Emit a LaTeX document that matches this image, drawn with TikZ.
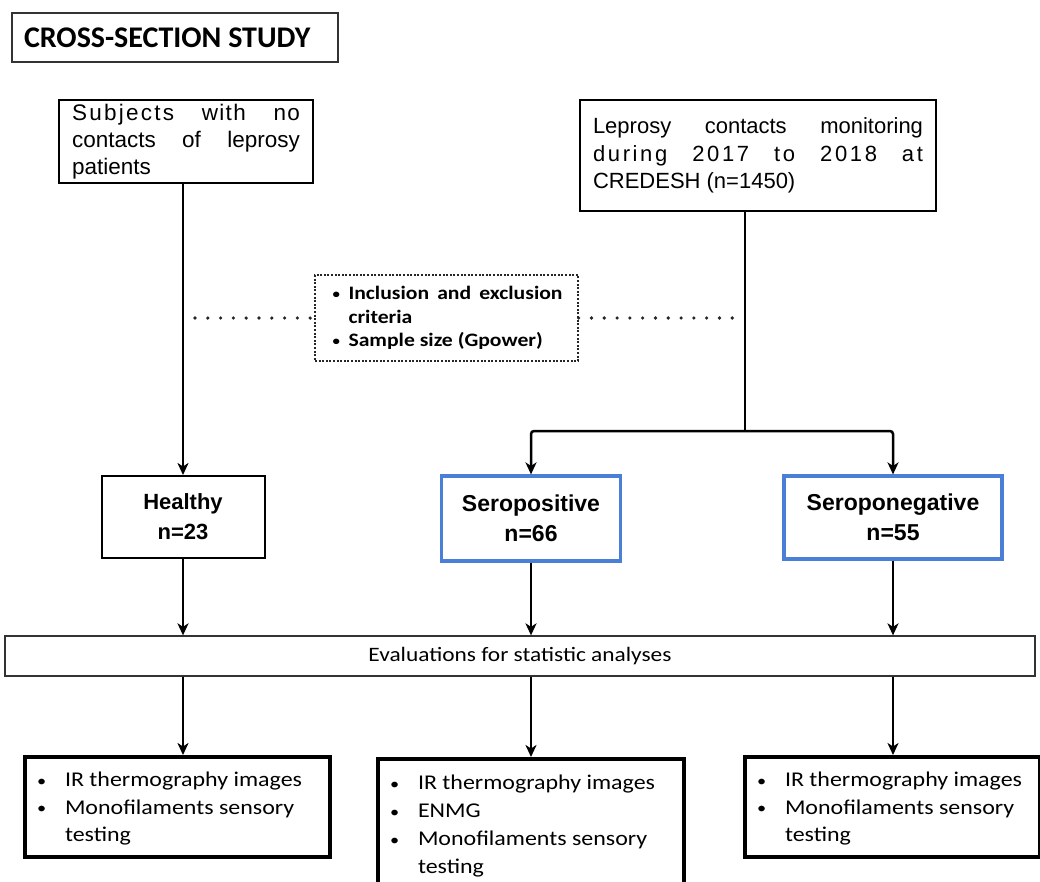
\documentclass[tikz,border=0pt]{standalone}
\usepackage{fontspec}
\setmainfont{Carlito}
\newfontfamily\calw[FakeStretch=1.14]{Carlito}
\newfontfamily\arial{Liberation Sans}
\usetikzlibrary{arrows.meta}
\definecolor{boxblue}{HTML}{4A7FD8}
\newcommand{\smbul}{{\fontsize{13}{13}\selectfont\raisebox{1pt}{\textbullet}}}
\newcommand{\bgbul}{{\fontsize{16}{16}\selectfont\raisebox{0.5pt}{\textbullet}}}
\tikzset{
  plainbox/.style={draw=black, line width=2, inner sep=0, align=center},
  bluebox/.style={draw=boxblue, line width=3.2, inner sep=0, align=center, font=\arial\bfseries\fontsize{23}{30}\selectfont},
  thickbox/.style={draw=black, line width=4, inner sep=0},
  conn/.style={line width=2.5, draw=black},
  arr/.style={conn, -{Stealth[length=12, width=11, inset=3.5]}},
  dots/.style={line width=3.6, line cap=round, dash pattern=on 0 off 12.8, draw=black!85},
}
\begin{document}
\begin{tikzpicture}[x=1pt, y=-1pt]
\useasboundingbox (0,0) rectangle (1040,881);

% title
\node[draw=black!80, line width=1.5, minimum width=326, minimum height=49, inner sep=0,
  font=\bfseries\fontsize{30}{34}\selectfont] (title) at (175,37.5) {\raisebox{-1pt}{\makebox[302pt][l]{CROSS-SECTION STUDY}}};

% top boxes
\node[plainbox, minimum width=254, minimum height=83, font=\arial\fontsize{22.5}{27}\selectfont] (sub) at (186,141.5)
  {\makebox[228pt][s]{{\addfontfeature{LetterSpace=10}Subjects} {\addfontfeature{LetterSpace=6}with} {\addfontfeature{LetterSpace=6}no}}\\
   \makebox[228pt][s]{contacts of leprosy}\\
   \makebox[228pt][l]{patients}};
\node[plainbox, minimum width=356, minimum height=111, font=\arial\fontsize{22}{27.5}\selectfont] (lep) at (758,155.5)
  {\makebox[330pt][s]{Leprosy contacts monitoring}\\
   \makebox[330pt][s]{\addfontfeature{LetterSpace=12}during 2017 to 2018 at}\\
   \makebox[330pt][l]{CREDESH (n=1450)}};

% criteria box
\node[draw=black!85, line width=1.3, dash pattern=on 2 off 1.6, minimum width=263, minimum height=86, inner sep=0,
  font=\calw\bfseries\fontsize{19}{23.5}\selectfont, align=left] (crit) at (446.5,318)
  {\raisebox{-2.5pt}{\parbox{232pt}{\makebox[18pt][l]{\hspace{2pt}\smbul}\makebox[214pt][s]{Inclusion and exclusion}\\
   \hspace*{18pt}criteria\\
   \makebox[18pt][l]{\hspace{2pt}\smbul}Sample size (Gpower)}}};

% group boxes
\node[plainbox, minimum width=163, minimum height=82, font=\arial\bfseries\fontsize{22}{30}\selectfont] (healthy) at (183,517) {Healthy\\n=23};
\node[bluebox, minimum width=179, minimum height=85] (seropos) at (531,518.5) {Seropositive\\n=66};
\node[bluebox, minimum width=218, minimum height=83] (seroneg) at (893,517.5) {Seroponegative\\n=55};

% evaluation bar
\node[draw=black!80, line width=1.3, minimum width=1030, minimum height=40, inner sep=0,
  font=\calw\fontsize{20.5}{24}\selectfont] (eval) at (520,656) {Evaluations for statistic analyses};

% bottom boxes
\node[thickbox, minimum width=305, minimum height=100, inner xsep=12, font=\calw\fontsize{21}{27.5}\selectfont] (botl) at (177.5,807)
  {\parbox[c][96pt][t]{281pt}{\vspace*{13pt}\makebox[28pt][l]{\bgbul}IR thermography images\\
   \makebox[28pt][l]{\bgbul}Monofilaments sensory\\
   \hspace*{28pt}testing}};
\node[thickbox, anchor=north, inner xsep=12, inner ysep=0, font=\calw\fontsize{21}{28}\selectfont] (botm) at (531,757)
  {\parbox[t][138pt][t]{282pt}{\vspace*{16pt}\makebox[28pt][l]{\bgbul}IR thermography images\\
   \makebox[28pt][l]{\bgbul}ENMG\\
   \makebox[28pt][l]{\bgbul}Monofilaments sensory\\
   \hspace*{28pt}testing}};
\node[thickbox, minimum width=295, minimum height=100, inner xsep=12, font=\calw\fontsize{21}{27.5}\selectfont] (botr) at (892.5,807)
  {\parbox[c][96pt][t]{271pt}{\vspace*{13pt}\makebox[28pt][l]{\bgbul}IR thermography images\\
   \makebox[28pt][l]{\bgbul}Monofilaments sensory\\
   \hspace*{28pt}testing}};

% connectors
\coordinate (split) at (745,431);
\coordinate (dl) at (183,318);
\coordinate (dr) at (745,318);
\draw[arr] (sub.south -| healthy.north) -- (healthy.north);
\draw[conn] (lep.south -| split) -- (split);
\draw[arr, rounded corners=3] (split) -| (seropos.north);
\draw[arr, rounded corners=3] (split) -| (seroneg.north);
\draw[dots] (dl) ++(12,0) -- (crit.west);
\draw[dots] (crit.east) -- (dr);

\draw[arr] (healthy.south) -- (eval.north -| healthy.south);
\draw[arr] (seropos.south) -- (eval.north -| seropos.south);
\draw[arr] (seroneg.south) -- (eval.north -| seroneg.south);

\draw[arr] (eval.south -| healthy.south) -- (botl.north -| healthy.south);
\draw[arr] (eval.south -| seropos.south) -- (botm.north -| seropos.south);
\draw[arr] (eval.south -| seroneg.south) -- (botr.north -| seroneg.south);
\end{tikzpicture}
\end{document}
